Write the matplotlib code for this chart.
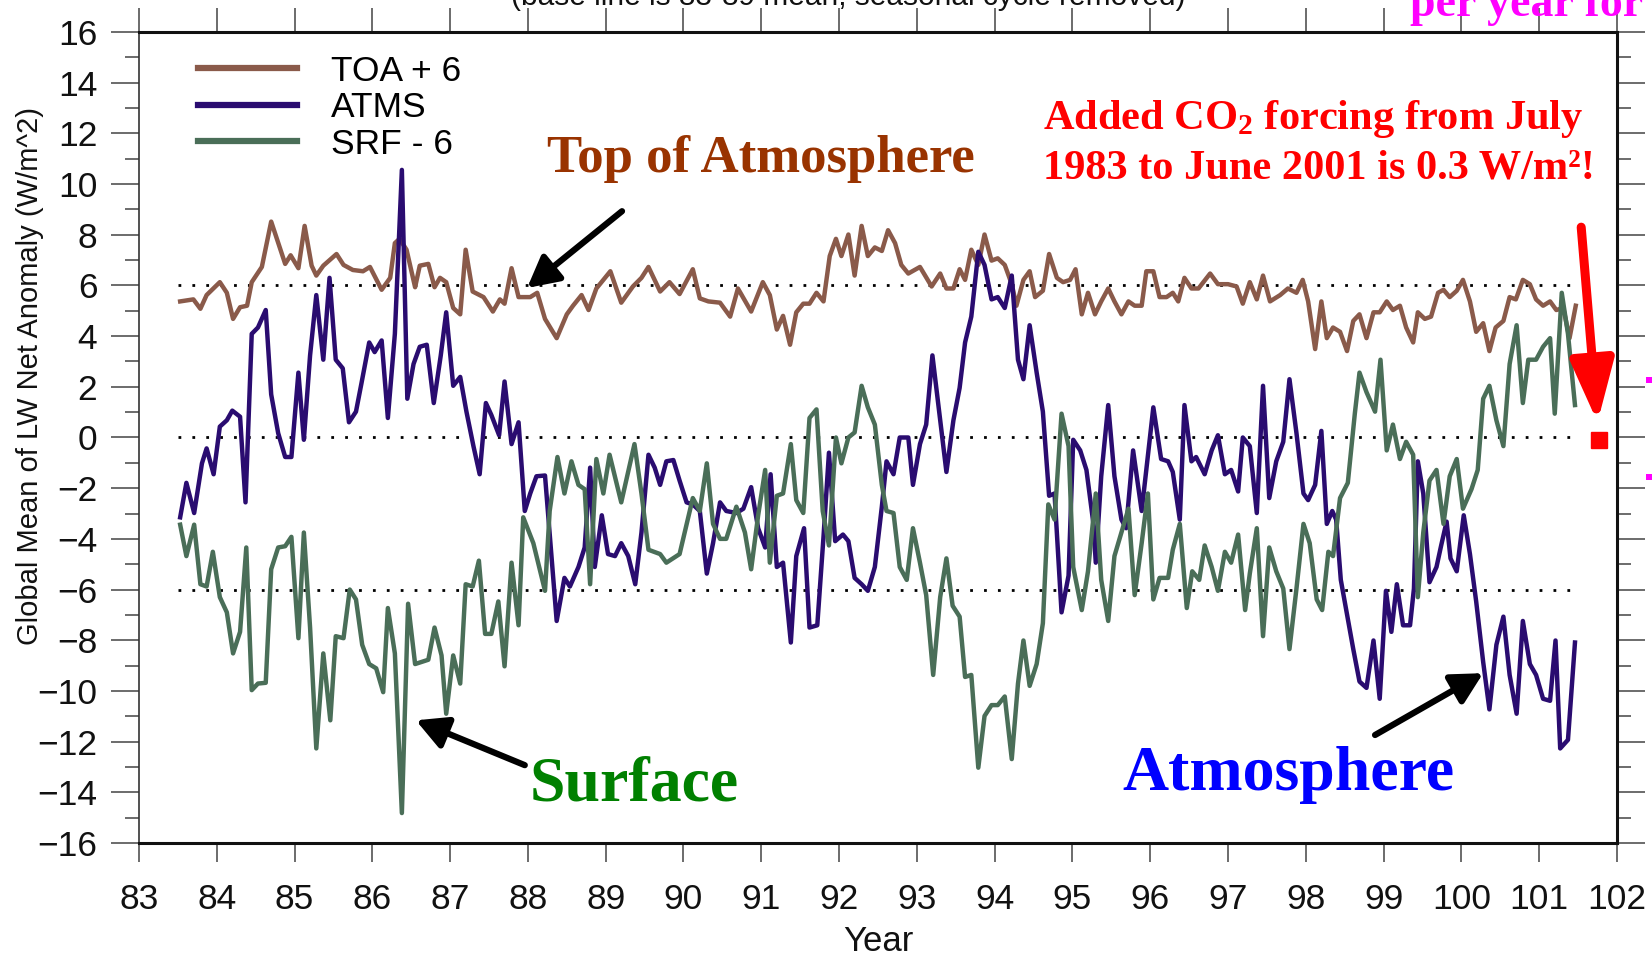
import matplotlib
matplotlib.use('Agg')
import matplotlib.pyplot as plt
from matplotlib import font_manager
from matplotlib.patches import Rectangle
from matplotlib.ticker import MultipleLocator

# --- data (decimal year, W/m^2) ---
toa_year = [83.53, 83.70, 83.79, 83.87, 84.04, 84.13, 84.21, 84.30, 84.39, 84.45, 84.58, 84.70, 84.88,
            84.95, 85.05, 85.13, 85.22, 85.28, 85.37, 85.54, 85.63, 85.75, 85.88, 85.97, 86.12, 86.23,
            86.29, 86.35, 86.44, 86.55, 86.61, 86.72, 86.80, 86.87, 86.95, 87.04, 87.13, 87.20, 87.29,
            87.43, 87.55, 87.64, 87.70, 87.79, 87.88, 88.03, 88.12, 88.22, 88.37, 88.50, 88.58, 88.69,
            88.78, 88.88, 88.97, 89.06, 89.20, 89.35, 89.46, 89.55, 89.70, 89.82, 89.95, 90.12, 90.21,
            90.32, 90.47, 90.60, 90.70, 90.87, 91.02, 91.11, 91.20, 91.28, 91.37, 91.45, 91.54, 91.62,
            91.71, 91.80, 91.88, 91.96, 92.03, 92.12, 92.20, 92.29, 92.37, 92.46, 92.55, 92.63, 92.72,
            92.80, 92.89, 93.04, 93.19, 93.30, 93.38, 93.47, 93.55, 93.62, 93.70, 93.79, 93.87, 93.96,
            94.04, 94.13, 94.22, 94.28, 94.37, 94.45, 94.52, 94.62, 94.70, 94.80, 94.88, 94.97, 95.04,
            95.12, 95.20, 95.29, 95.37, 95.46, 95.54, 95.63, 95.72, 95.80, 95.89, 95.95, 96.04, 96.12,
            96.21, 96.29, 96.36, 96.44, 96.53, 96.62, 96.77, 96.87, 97.00, 97.11, 97.19, 97.28, 97.37,
            97.45, 97.54, 97.67, 97.77, 97.88, 97.96, 98.03, 98.12, 98.20, 98.27, 98.35, 98.44, 98.53,
            98.61, 98.69, 98.78, 98.87, 98.95, 99.04, 99.12, 99.21, 99.29, 99.38, 99.44, 99.53, 99.61,
            99.70, 99.77, 99.85, 99.94, 100.02, 100.11, 100.19, 100.28, 100.36, 100.44, 100.54, 100.62,
            100.70, 100.79, 100.88, 100.96, 101.05, 101.14, 101.22, 101.31, 101.39, 101.47]
toa_value = [5.37, 5.45, 5.08, 5.62, 6.13, 5.71, 4.68, 5.14, 5.20, 6.13, 6.73, 8.52, 6.85,
             7.19, 6.68, 8.35, 6.78, 6.39, 6.78, 7.24, 6.81, 6.61, 6.56, 6.73, 5.83, 6.30,
             7.67, 7.84, 7.41, 5.93, 6.78, 6.85, 5.93, 6.30, 6.13, 5.11, 4.86, 7.41, 5.76,
             5.54, 4.97, 5.45, 5.28, 6.68, 5.54, 5.54, 5.71, 4.68, 3.92, 4.86, 5.20, 5.62,
             5.03, 5.88, 6.22, 6.56, 5.32, 5.96, 6.30, 6.73, 5.76, 6.13, 5.66, 6.64, 5.49,
             5.37, 5.32, 4.77, 5.88, 4.97, 6.13, 5.62, 4.26, 4.80, 3.66, 4.94, 5.28, 5.28,
             5.71, 5.37, 7.16, 7.84, 7.16, 8.01, 6.39, 8.35, 7.16, 7.50, 7.36, 8.18, 7.67,
             6.81, 6.47, 6.73, 5.96, 6.47, 5.88, 5.88, 6.64, 6.22, 7.41, 6.81, 8.01, 6.98,
             7.07, 6.81, 6.05, 5.20, 6.22, 6.56, 5.54, 5.79, 7.24, 6.30, 6.13, 6.22, 6.64,
             4.86, 5.71, 4.86, 5.37, 5.88, 5.37, 4.86, 5.37, 5.20, 5.20, 6.56, 6.56, 5.54,
             5.54, 5.71, 5.37, 6.30, 5.88, 5.88, 6.47, 6.05, 6.05, 5.96, 5.28, 6.13, 5.45,
             6.39, 5.37, 5.62, 5.88, 5.71, 6.22, 5.37, 3.49, 5.37, 3.92, 4.34, 4.17, 3.41,
             4.60, 4.86, 3.92, 4.94, 4.94, 5.37, 5.03, 5.20, 4.34, 3.75, 4.94, 4.68, 4.77,
             5.71, 5.83, 5.54, 5.79, 6.22, 5.37, 4.17, 4.51, 3.41, 4.34, 4.60, 5.54,
             5.45, 6.22, 6.05, 5.45, 5.20, 5.37, 5.03, 5.11, 3.92, 5.20]

atms_year = [83.53, 83.61, 83.71, 83.81, 83.87, 83.96, 84.04, 84.13, 84.20, 84.30, 84.37, 84.45, 84.53,
             84.63, 84.70, 84.79, 84.88, 84.96, 85.05, 85.12, 85.20, 85.28, 85.37, 85.45, 85.53, 85.62,
             85.70, 85.79, 85.86, 85.96, 86.03, 86.12, 86.20, 86.29, 86.38, 86.45, 86.53, 86.61, 86.70,
             86.79, 86.88, 86.95, 87.04, 87.13, 87.21, 87.30, 87.38, 87.46, 87.53, 87.63, 87.70, 87.79,
             87.88, 87.96, 88.03, 88.11, 88.22, 88.37, 88.47, 88.54, 88.65, 88.73, 88.80, 88.86, 88.95,
             89.03, 89.12, 89.20, 89.29, 89.38, 89.46, 89.55, 89.63, 89.70, 89.78, 89.87, 89.95, 90.04,
             90.12, 90.21, 90.30, 90.38, 90.47, 90.55, 90.68, 90.77, 90.87, 90.96, 91.05, 91.12, 91.20,
             91.28, 91.38, 91.45, 91.55, 91.62, 91.72, 91.80, 91.87, 91.95, 92.05, 92.12, 92.20, 92.29,
             92.37, 92.46, 92.55, 92.61, 92.70, 92.78, 92.89, 92.95, 93.04, 93.12, 93.20, 93.30, 93.38,
             93.47, 93.55, 93.62, 93.70, 93.79, 93.87, 93.96, 94.04, 94.13, 94.22, 94.30, 94.37, 94.45,
             94.54, 94.62, 94.70, 94.77, 94.86, 94.95, 95.01, 95.10, 95.18, 95.27, 95.30, 95.37, 95.46,
             95.54, 95.63, 95.69, 95.78, 95.89, 96.04, 96.14, 96.23, 96.29, 96.38, 96.44, 96.53, 96.59,
             96.70, 96.79, 96.87, 96.96, 97.04, 97.13, 97.19, 97.28, 97.37, 97.45, 97.53, 97.62, 97.71,
             97.79, 97.88, 97.97, 98.03, 98.12, 98.20, 98.27, 98.34, 98.39, 98.45, 98.52, 98.61, 98.69,
             98.78, 98.87, 98.95, 99.03, 99.10, 99.17, 99.25, 99.34, 99.39, 99.44, 99.51, 99.59, 99.68,
             99.74, 99.81, 99.86, 99.94, 100.03, 100.11, 100.19, 100.28, 100.36, 100.45, 100.54, 100.62,
             100.71, 100.79, 100.88, 100.96, 101.05, 101.14, 101.21, 101.27, 101.37, 101.46]
atms_value = [-3.15, -1.79, -2.98, -1.02, -0.43, -1.45, 0.43, 0.68, 1.06, 0.82, -2.56, 4.09, 4.34,
              5.03, 1.70, 0.17, -0.77, -0.77, 2.56, -0.09, 3.24, 5.62, 3.07, 6.30, 3.07, 2.73,
              0.60, 1.02, 2.13, 3.75, 3.37, 3.83, 0.77, 4.09, 10.56, 1.53, 2.90, 3.58, 3.66,
              1.36, 3.24, 4.94, 2.04, 2.39, 1.02, -0.34, -1.45, 1.36, 0.89, 0.09, 2.21, -0.26,
              0.60, -2.90, -2.21, -1.53, -1.50, -7.24, -5.54, -5.88, -5.11, -4.34, -1.19, -5.11, -3.07,
              -4.60, -4.68, -4.17, -4.68, -5.79, -3.75, -0.68, -1.19, -1.87, -0.94, -0.89, -1.70, -2.56,
              -2.64, -2.90, -5.37, -4.17, -2.56, -2.90, -2.98, -2.81, -1.96, -3.58, -4.34, -1.45, -5.11,
              -4.94, -8.09, -4.68, -3.58, -7.50, -7.41, -3.92, -0.60, -4.09, -3.83, -4.09, -5.54, -5.79,
              -6.05, -5.11, -2.73, -0.94, -1.45, 0.00, 0.00, -1.87, -0.26, 0.51, 3.24, 0.68, -1.36,
              0.68, 1.96, 3.75, 4.77, 7.33, 6.81, 5.45, 5.54, 5.11, 6.39, 3.07, 2.30, 4.43,
              2.56, 1.02, -2.30, -2.21, -6.90, -5.45, -0.09, -0.51, -1.28, -3.41, -4.94, -1.53, 1.28,
              -1.53, -3.24, -3.58, -0.51, -2.90, 1.19, -0.85, -0.94, -1.36, -3.24, 1.28, -0.94, -0.77,
              -1.45, -0.51, 0.09, -1.45, -1.28, -2.13, 0.00, -0.34, -2.98, 2.04, -2.39, -0.94, -0.17,
              2.30, 0.17, -2.21, -2.47, -1.87, 0.26, -3.41, -2.90, -3.24, -5.62, -6.81, -8.35, -9.63,
              -9.88, -8.01, -10.31, -6.05, -7.67, -5.79, -7.41, -7.41, -5.96, -0.94, -2.21, -5.71, -5.11,
              -4.26, -3.32, -4.77, -5.28, -3.07, -4.60, -6.47, -8.86, -10.73, -8.18, -7.07, -9.37,
              -10.90, -7.24, -8.94, -9.37, -10.31, -10.39, -8.01, -12.27, -11.93, -8.09]

srf_year = [83.53, 83.61, 83.71, 83.79, 83.87, 83.95, 84.04, 84.13, 84.21, 84.30, 84.38, 84.45, 84.53,
            84.63, 84.70, 84.79, 84.88, 84.96, 85.05, 85.12, 85.20, 85.28, 85.37, 85.46, 85.53, 85.63,
            85.71, 85.79, 85.87, 85.96, 86.05, 86.14, 86.20, 86.29, 86.38, 86.46, 86.55, 86.63, 86.72,
            86.80, 86.89, 86.95, 87.04, 87.13, 87.20, 87.29, 87.37, 87.45, 87.53, 87.62, 87.70, 87.79,
            87.88, 87.94, 88.07, 88.22, 88.28, 88.38, 88.47, 88.56, 88.65, 88.73, 88.80, 88.88, 88.97,
            89.05, 89.20, 89.37, 89.46, 89.55, 89.70, 89.78, 89.95, 90.12, 90.21, 90.30, 90.38, 90.47,
            90.55, 90.68, 90.79, 90.87, 90.96, 91.05, 91.11, 91.20, 91.28, 91.38, 91.45, 91.54, 91.62,
            91.71, 91.79, 91.87, 91.96, 92.03, 92.12, 92.20, 92.29, 92.37, 92.46, 92.55, 92.61, 92.70,
            92.78, 92.87, 92.95, 93.04, 93.12, 93.21, 93.30, 93.38, 93.46, 93.55, 93.62, 93.70, 93.79,
            93.87, 93.96, 94.04, 94.13, 94.22, 94.30, 94.37, 94.45, 94.54, 94.62, 94.69, 94.77, 94.86,
            94.95, 95.01, 95.12, 95.20, 95.30, 95.37, 95.46, 95.54, 95.63, 95.72, 95.80, 95.89, 95.97,
            96.04, 96.12, 96.23, 96.29, 96.38, 96.47, 96.54, 96.63, 96.70, 96.79, 96.87, 96.96, 97.04,
            97.13, 97.22, 97.28, 97.37, 97.45, 97.53, 97.62, 97.71, 97.79, 97.88, 97.97, 98.05, 98.14,
            98.21, 98.29, 98.35, 98.44, 98.54, 98.63, 98.69, 98.78, 98.89, 98.96, 99.04, 99.12, 99.21,
            99.29, 99.38, 99.44, 99.51, 99.59, 99.68, 99.77, 99.85, 99.94, 100.02, 100.13, 100.21,
            100.28, 100.36, 100.45, 100.54, 100.62, 100.71, 100.79, 100.86, 100.96, 101.05, 101.14,
            101.20, 101.29, 101.37, 101.46]
srf_value = [-3.44, -4.68, -3.44, -5.79, -5.88, -4.51, -6.30, -6.90, -8.52, -7.67, -4.34, -9.97, -9.71,
             -9.68, -5.20, -4.34, -4.29, -3.92, -7.92, -3.75, -7.50, -12.27, -8.52, -11.16, -7.84, -7.92,
             -6.00, -6.39, -8.18, -8.94, -9.11, -10.05, -6.73, -8.52, -14.82, -6.56, -8.94, -8.86, -8.77,
             -7.50, -8.60, -10.90, -8.60, -9.71, -5.79, -5.88, -4.86, -7.75, -7.75, -6.47, -9.03, -4.94,
             -7.41, -3.15, -4.17, -6.05, -2.90, -0.77, -2.21, -0.94, -1.87, -2.04, -5.79, -0.85, -2.21,
             -0.68, -2.56, -0.26, -2.21, -4.43, -4.60, -4.94, -4.60, -2.39, -2.90, -1.02, -3.41, -4.00,
             -4.00, -2.73, -3.75, -5.20, -3.07, -1.28, -4.94, -2.30, -2.21, -0.26, -2.47, -2.98, 0.77,
             1.11, -2.90, -4.26, 0.00, -1.02, 0.00, 0.20, 2.04, 1.19, 0.51, -1.87, -2.90, -2.98,
             -5.11, -5.62, -3.58, -4.94, -6.22, -9.37, -6.30, -4.77, -6.64, -7.07, -9.45, -9.37, -13.03,
             -10.99, -10.56, -10.56, -10.22, -12.69, -9.71, -8.01, -9.80, -8.94, -7.33, -2.64, -3.24, 0.94,
             -0.34, -5.11, -6.81, -5.28, -2.21, -5.62, -7.24, -4.68, -3.75, -2.81, -6.22, -4.17, -2.21,
             -6.39, -5.54, -5.54, -4.43, -3.41, -6.73, -5.28, -5.62, -4.26, -5.11, -6.05, -4.51, -4.94,
             -3.83, -6.81, -5.37, -3.58, -7.84, -4.34, -5.28, -5.96, -8.35, -5.96, -3.41, -4.17, -6.39,
             -6.81, -4.51, -4.68, -2.39, -1.79, 0.94, 2.56, 1.79, 1.02, 3.07, -0.51, 0.51, -0.85,
             -0.17, -0.68, -6.30, -3.75, -1.70, -1.28, -3.41, -1.53, -0.85, -2.81, -2.04, -1.28,
             1.53, 2.04, 0.68, -0.34, 2.90, 4.43, 1.36, 3.07, 3.07, 3.58, 3.92,
             0.94, 5.71, 4.09, 1.28]

ref_levels = [6, 0, -6]
ref_start, ref_end = 83.5, 101.45
co2_year = [101.77]
co2_value = [-0.1]
year_ticks = list(range(83, 103))

names = {f.name for f in font_manager.fontManager.ttflist}
sans = 'Liberation Sans'
serif = 'Liberation Serif'
if 'Liberation Sans Narrow' in names:
    narrow, narrow_size = 'Liberation Sans Narrow', 24
else:
    narrow, narrow_size = 'Liberation Sans', 21

plt.rcParams['mathtext.fontset'] = 'custom'
plt.rcParams['mathtext.rm'] = 'Liberation Serif:bold'
plt.rcParams['mathtext.it'] = 'Liberation Serif:bold'
plt.rcParams['mathtext.bf'] = 'Liberation Serif:bold'

fig = plt.figure(figsize=(16.52, 9.59), dpi=100)
ax = fig.add_axes([0.0841, 0.121, 0.8947, 0.8456])

for lev in ref_levels:
    ax.plot([ref_start, ref_end], [lev, lev], color='black', lw=2, ls=(0, (1, 4)))

c_toa, c_atms, c_srf = '#8a5a4a', '#2a0c70', '#4a6e58'
ax.plot(toa_year, toa_value, color=c_toa, lw=3.2, label='TOA + 6')
ax.plot(atms_year, atms_value, color=c_atms, lw=3.2, label='ATMS')
ax.plot(srf_year, srf_value, color=c_srf, lw=3.2, label='SRF - 6')

ax.set_xlim(83, 102)
ax.set_ylim(-16, 16)
ax.set_xticks(year_ticks)
ax.set_xticklabels([str(y) for y in year_ticks])
ax.yaxis.set_major_locator(MultipleLocator(2))
ax.yaxis.set_minor_locator(MultipleLocator(1))

ax.tick_params(axis='y', which='major', direction='out', length=20, width=1.1, color='#444',
               left=True, right=True, pad=10, labelsize=25.5)
ax.tick_params(axis='y', which='minor', direction='out', length=10, width=1.1, color='#444',
               left=True, right=True)
ax.tick_params(axis='x', which='major', direction='out', length=14, width=1.1, color='#444',
               bottom=True, top=False, pad=15, labelsize=25.5)
for lab in ax.get_xticklabels() + ax.get_yticklabels():
    lab.set_fontfamily(sans)
    lab.set_color('#111')
# top ticks are longer than the bottom ones
axt = ax.secondary_xaxis('top')
axt.set_xticks(year_ticks)
axt.tick_params(direction='out', length=17, width=1.1, color='#444', labeltop=False)
axt.spines['top'].set_visible(False)

for s in ['top', 'right', 'bottom']:
    ax.spines[s].set_linewidth(2.2)
    ax.spines[s].set_color('#111')
ax.spines['left'].set_linewidth(1.2)
ax.spines['left'].set_color('#333')

leg = ax.legend(loc='upper left', bbox_to_anchor=(0.04, 0.972), frameon=False,
                prop={'family': sans, 'size': 25.5}, handlelength=2.8, handletextpad=0.95,
                labelspacing=0.1, borderpad=0, borderaxespad=0)
for h in leg.get_lines():
    h.set_linewidth(4.5)

# labels
fig.text(30 / 1652, 1 - 376 / 959, 'Global Mean of LW Net Anomaly (W/m^2)', rotation=90,
         ha='center', va='center', family=narrow, fontsize=narrow_size, color='#111')
fig.text(878 / 1652, 1 - 951 / 959, 'Year', ha='center', va='baseline', family=sans,
         fontsize=25, color='#111')
fig.text(848 / 1652, 1 - 5 / 959, '(base line is 83-89 mean, seasonal cycle removed)',
         ha='center', va='baseline', family=sans, fontsize=21.5, color='#111')
fig.text(1410 / 1652, 1 - 16 / 959, 'per year for', ha='left', va='baseline', family=serif,
         fontweight='bold', fontsize=33, color='magenta')
for yp in [380, 477]:
    fig.add_artist(Rectangle((1646 / 1652, 1 - (yp + 3) / 959), 7 / 1652, 6 / 959,
                             transform=fig.transFigure, color='magenta', lw=0))

# annotations
ax.text(88.25, 11.0, 'Top of Atmosphere', color='#993300', family=serif, fontweight='bold',
        fontsize=38, ha='left', va='center')
ax.text(89.36, -13.75, 'Surface', color='#008000', family=serif, fontweight='bold',
        fontsize=46, ha='center', va='center')
ax.text(97.78, -13.3, 'Atmosphere', color='#0000ff', family=serif, fontweight='bold',
        fontsize=46, ha='center', va='center')
ax.text(94.62, 12.55, 'Added CO$_2$ forcing from July', color='red', family=serif,
        fontweight='bold', fontsize=30.5, ha='left', va='center')
ax.text(94.62, 10.6, '1983 to June 2001 is 0.3 W/m\u00b2!', color='red', family=serif,
        fontweight='bold', fontsize=30.5, ha='left', va='center')

arrow_kw = dict(arrowstyle='-|>,head_length=0.85,head_width=0.45', color='black', lw=4.5,
                mutation_scale=22, shrinkA=0, shrinkB=0)
ax.annotate('', xy=(87.99, 5.9), xytext=(89.21, 8.93), arrowprops=arrow_kw, annotation_clip=False)
ax.annotate('', xy=(86.56, -11.16), xytext=(87.96, -12.93), arrowprops=arrow_kw, annotation_clip=False)
ax.annotate('', xy=(100.28, -9.3), xytext=(98.89, -11.74), arrowprops=arrow_kw, annotation_clip=False)
ax.annotate('', xy=(101.75, 0.6), xytext=(101.54, 8.3),
            arrowprops=dict(arrowstyle='-|>,head_length=1.7,head_width=0.6', color='red', lw=6.5,
                            mutation_scale=22, shrinkA=0, shrinkB=0), annotation_clip=False)
ax.plot(co2_year, co2_value, 's', color='red', ms=11, clip_on=False)

fig.savefig('out.png', dpi=100)
